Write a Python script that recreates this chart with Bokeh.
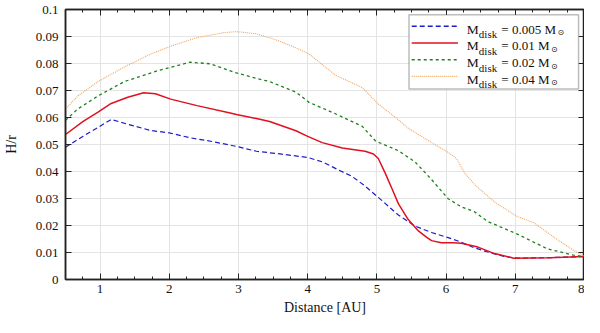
from bokeh.plotting import figure
from bokeh.models import (Range1d, FixedTicker, LinearAxis, CustomJSTickFormatter,
                          BoxAnnotation, ColumnDataSource)
from bokeh.core.properties import value
from bokeh.embed import file_html
from bokeh.resources import INLINE

# ---------------- data ----------------
x_005 = [0.5, 0.75, 1.0, 1.16, 1.4, 1.73, 2.0, 2.3, 2.6, 2.97, 3.26, 3.6, 4.0, 4.21,
         4.45, 4.64, 4.83, 5.07, 5.31, 5.55, 5.79, 6.03, 6.2, 6.4, 6.6, 6.84, 7.03, 7.5, 8.0]
h_005 = [0.049, 0.053, 0.0568, 0.0593, 0.0575, 0.0552, 0.0543, 0.0525, 0.0512, 0.0493, 0.0475,
         0.0465, 0.0452, 0.0436, 0.0405, 0.0382, 0.0346, 0.0293, 0.0239, 0.0198, 0.0174, 0.0155,
         0.014, 0.0118, 0.0102, 0.0085, 0.0079, 0.0081, 0.0085]

x_01 = [0.5, 0.75, 0.97, 1.16, 1.4, 1.63, 1.8, 2.02, 2.4, 2.88, 2.97, 3.26, 3.45, 3.83, 4.0,
        4.21, 4.5, 4.83, 4.95, 5.02, 5.12, 5.22, 5.31, 5.45, 5.6, 5.72, 5.79, 5.93, 6.1, 6.22,
        6.46, 6.7, 6.98, 7.5, 8.0]
h_01 = [0.0537, 0.0585, 0.062, 0.0652, 0.0675, 0.0692, 0.0688, 0.0668, 0.0644, 0.0617, 0.0611,
        0.0596, 0.0585, 0.0551, 0.053, 0.0507, 0.0487, 0.0475, 0.0465, 0.0448, 0.0394, 0.0335,
        0.0281, 0.0223, 0.018, 0.0156, 0.0144, 0.0136, 0.0136, 0.0134, 0.012, 0.0096, 0.0079,
        0.0081, 0.0085]

x_02 = [0.5, 0.68, 0.97, 1.35, 1.83, 2.3, 2.59, 2.97, 3.26, 3.45, 3.83, 4.02, 4.4, 4.79, 4.98,
        5.31, 5.55, 5.79, 6.03, 6.22, 6.41, 6.6, 7.03, 7.46, 7.84, 8.0]
h_02 = [0.059, 0.0632, 0.068, 0.0733, 0.0773, 0.0805, 0.0799, 0.0765, 0.0745, 0.0733, 0.0694,
        0.0656, 0.0614, 0.0567, 0.0513, 0.0477, 0.0436, 0.037, 0.0299, 0.0269, 0.0251, 0.0215,
        0.0168, 0.0114, 0.009, 0.0085]

x_04 = [0.5, 0.68, 0.97, 1.35, 1.73, 2.02, 2.4, 2.78, 2.97, 3.26, 3.54, 3.83, 4.02, 4.4, 4.79,
        5.02, 5.26, 5.45, 5.79, 6.03, 6.15, 6.27, 6.41, 6.7, 7.03, 7.27, 7.56, 7.84, 8.0]
h_04 = [0.0632, 0.068, 0.0733, 0.0787, 0.0835, 0.0864, 0.0896, 0.0914, 0.0918, 0.091, 0.0888,
        0.0858, 0.0835, 0.0757, 0.071, 0.065, 0.0602, 0.0561, 0.0507, 0.0471, 0.0448, 0.0394,
        0.0352, 0.0287, 0.0233, 0.021, 0.0156, 0.0108, 0.0087]

disk_masses = ["0.005", "0.01", "0.02", "0.04"]
x_ticks = [1, 2, 3, 4, 5, 6, 7, 8]
x_minor_ticks = [0.5 + 0.25 * i for i in range(31)]
y_ticks = [0, 0.01, 0.02, 0.03, 0.04, 0.05, 0.06, 0.07, 0.08, 0.09, 0.1]
x_label = "Distance [AU]"
y_label = "H/r"

# ---------------- styles ----------------
FONT = "Liberation Serif"
AX = "#222222"
styles = [
    dict(color="#1c1cc8", dash="5 3", width=1.2),
    dict(color="#e01020", dash="solid", width=1.5),
    dict(color="#1f801f", dash="3 3", width=1.3),
    dict(color="#f2a35a", dash="1 1", width=1.1),
]
series = [(x_005, h_005), (x_01, h_01), (x_02, h_02), (x_04, h_04)]

p = figure(width=584, height=317, x_range=Range1d(0.5, 8), y_range=Range1d(0, 0.1),
           output_backend="svg", toolbar_location=None,
           min_border_left=60, min_border_right=0, min_border_top=9, min_border_bottom=0)
p.background_fill_color = "white"
p.outline_line_color = AX
p.outline_line_width = 1.5


def style_axis(ax):
    ax.axis_line_color = AX
    ax.axis_line_width = 1.5
    ax.major_tick_line_color = AX
    ax.minor_tick_line_color = AX
    ax.major_tick_in = 6
    ax.major_tick_out = 0
    ax.minor_tick_in = 3
    ax.minor_tick_out = 0
    ax.major_label_text_font = FONT
    ax.major_label_text_font_size = "13px"
    ax.major_label_text_color = "#111111"
    ax.axis_label_text_font = FONT
    ax.axis_label_text_font_size = "14px"
    ax.axis_label_text_font_style = "normal"
    ax.axis_label_text_color = "#111111"


xt = FixedTicker(ticks=x_ticks, minor_ticks=x_minor_ticks)
yt = FixedTicker(ticks=y_ticks, minor_ticks=[])

xa = p.xaxis[0]
xa.ticker = xt
xa.axis_label = x_label
xa.major_label_standoff = 5
xa.axis_label_standoff = 4
style_axis(xa)

ya = p.yaxis[0]
ya.ticker = yt
ya.formatter = CustomJSTickFormatter(code="return tick.toFixed(2).replace(/\\.?0+$/, '');")
ya.axis_label = y_label
ya.major_label_standoff = 7
ya.axis_label_standoff = 14
style_axis(ya)

blank = CustomJSTickFormatter(code="return '';")
top = LinearAxis(ticker=FixedTicker(ticks=x_ticks, minor_ticks=x_minor_ticks), formatter=blank,
                 major_label_standoff=0)
style_axis(top)
top.major_label_text_font_size = "0px"
p.add_layout(top, "above")
right = LinearAxis(ticker=FixedTicker(ticks=y_ticks, minor_ticks=[]), formatter=blank,
                   major_label_standoff=0)
style_axis(right)
right.major_label_text_font_size = "0px"
p.add_layout(right, "right")

p.xgrid.grid_line_color = "#e4e4e4"
p.ygrid.grid_line_color = "#e4e4e4"
p.xgrid.ticker = xt
p.ygrid.ticker = yt

for (xs, ys), st in zip(series, styles):
    p.line(xs, ys, line_color=st["color"], line_dash=st["dash"], line_width=st["width"])

# ---------------- legend (drawn by hand for sub-scripts) ----------------
box = BoxAnnotation(left=5.464, right=7.914, bottom=0.0706, top=0.0981,
                    fill_color="white", fill_alpha=1.0, line_color=AX, line_width=1.5)
p.add_layout(box)

em = {"=": 0.564, " ": 0.25, ".": 0.25, "M": 0.889}
rows_y = [0.0938 - i * 0.0062 for i in range(4)]
m_src = dict(x=[], y=[], t=[])
d_src = dict(x=[], y=[], t=[])
v_src = dict(x=[], y=[], t=[])
s_src = dict(x=[], y=[], t=[], xo=[])
tx = 6.30
for i, (mass, st) in enumerate(zip(disk_masses, styles)):
    yl = rows_y[i]
    r = p.line([5.503, 6.171], [yl, yl], line_color=st["color"], line_dash=st["dash"],
               line_width=st["width"] + 0.2)
    r.level = "overlay"
    yb = yl - 0.00105
    vtxt = "= " + mass + " M"
    w = sum(em.get(c, 0.5) for c in vtxt) * 13
    m_src["x"].append(tx); m_src["y"].append(yb); m_src["t"].append("M")
    d_src["x"].append(tx); d_src["y"].append(yb); d_src["t"].append("disk")
    v_src["x"].append(tx); v_src["y"].append(yb); v_src["t"].append(vtxt)
    s_src["x"].append(tx); s_src["y"].append(yb); s_src["t"].append("\u2299")
    s_src["xo"].append(34.5 + w + 1.5)

r = p.text(x="x", y="y", text="t", source=ColumnDataSource(m_src), text_font=value(FONT),
           text_font_size="13.5px", text_baseline="alphabetic", text_color="#111111")
r.level = "overlay"
r = p.text(x="x", y="y", text="t", source=ColumnDataSource(d_src), text_font=value(FONT),
           text_font_size="11px", text_baseline="alphabetic", text_color="#111111",
           x_offset=12, y_offset=5)
r.level = "overlay"
r = p.text(x="x", y="y", text="t", source=ColumnDataSource(v_src), text_font=value(FONT),
           text_font_size="13px", text_baseline="alphabetic", text_color="#111111",
           x_offset=34.5)
r.level = "overlay"
r = p.text(x="x", y="y", text="t", source=ColumnDataSource(s_src), text_font=value("DejaVu Sans"),
           text_font_size="8px", text_baseline="middle", text_color="#111111",
           x_offset="xo", y_offset=3.5)
r.level = "overlay"

open("out.html", "w").write(file_html(p, INLINE))
